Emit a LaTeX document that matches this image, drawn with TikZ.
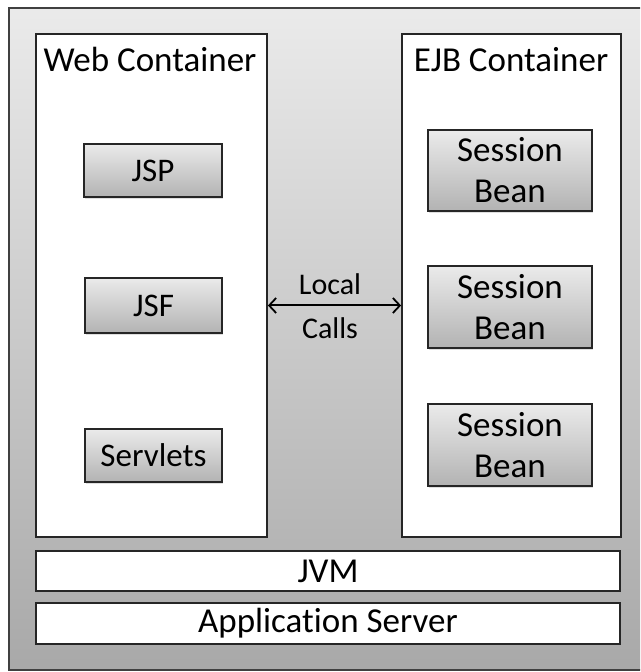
\documentclass[tikz,border=0pt]{standalone}
\usepackage{fontspec}
\setmainfont[RawFeature={-liga}]{Carlito}
\usetikzlibrary{arrows.meta,shadows}
\tikzset{
  outerbox/.style={draw=black!75, line width=1.6pt, top color=black!8, bottom color=black!34},
  container/.style={draw=black!85, line width=1.8pt, fill=white, inner sep=0pt},
  comp/.style={draw=black!85, line width=1.8pt, top color=black!8, bottom color=black!30,
     inner sep=0pt, align=center,
     drop shadow={opacity=0.25, shadow xshift=1pt, shadow yshift=-2.5pt}},
  bar/.style={draw=black!85, line width=1.8pt, fill=white, inner sep=0pt},
  title/.style={inner sep=0pt, font=\fontsize{35}{42}\selectfont},
  comptext/.style={font=\fontsize{33}{40}\selectfont},
  beantext/.style={font=\fontsize{35}{41}\selectfont},
  calltext/.style={inner sep=0pt, font=\fontsize{30}{36}\selectfont},
  bartext/.style={font=\fontsize{35}{42}\selectfont},
  callarrow/.style={line width=2pt, {Straight Barb[length=7pt,width=15pt,line width=1.8pt]}-{Straight Barb[length=7pt,width=15pt,line width=1.8pt]}}
}
\begin{document}
\begin{tikzpicture}[x=1pt,y=1pt]
\clip (0,0) rectangle (640,672);
% outer application server frame (right side runs off the picture)
\path[outerbox] (9,2) rectangle (648,664);
% containers
\node[container, minimum width=231pt, minimum height=503pt] (web) at (151.5,386.5) {};
\node[container, minimum width=219pt, minimum height=503pt] (ejb) at (511.5,386.5) {};
\node[title, anchor=base] (webtitle) at (150,600) {Web Container};
\node[title, anchor=base] (ejbtitle) at (511,600) {EJB Container};
% web components
\node[comp, comptext, minimum width=138pt, minimum height=53pt] (jsp) at (153,501.5) {JSP};
\node[comp, comptext, minimum width=137pt, minimum height=55pt] (jsf) at (153.5,366.5) {JSF};
\node[comp, comptext, minimum width=137pt, minimum height=53pt] (servlets) at (153.5,216.5) {Servlets};
% session beans
\node[comp, beantext, minimum width=164pt, minimum height=81pt] (sb1) at (510,501.5) {Session\\Bean};
\node[comp, beantext, minimum width=164pt, minimum height=82pt] (sb2) at (510,365) {Session\\Bean};
\node[comp, beantext, minimum width=164pt, minimum height=82pt] (sb3) at (510,227) {Session\\Bean};
% local calls
\draw[callarrow] (web.east |- jsf.center) -- (ejb.west |- jsf.center);
\node[calltext] (local) at (330,388) {Local};
\node[calltext] (calls) at (330,344) {Calls};
% bars
\node[bar, minimum width=584pt, minimum height=40pt] (jvm) at (328,101) {};
\node[bartext] at (jvm.center) {JVM};
\node[bar, minimum width=584pt, minimum height=41pt] (as) at (328,48.5) {};
\node[bartext] at (as.center) {Application Server};
\end{tikzpicture}
\end{document}
